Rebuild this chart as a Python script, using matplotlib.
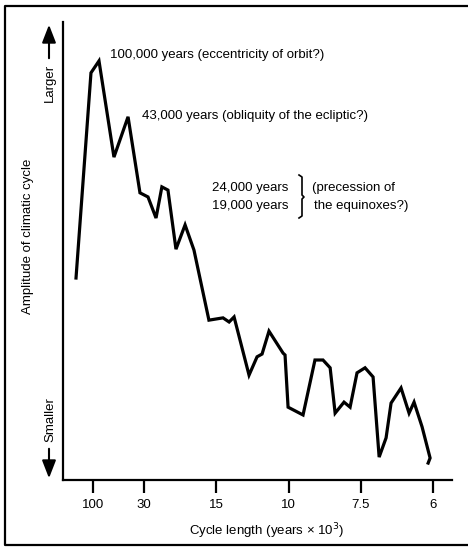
import matplotlib
matplotlib.use("Agg")
import matplotlib.pyplot as plt
from matplotlib.lines import Line2D
import numpy as np

plt.rcParams['font.family'] = ['Liberation Sans', 'DejaVu Sans']

# frequency in cycles per 1000 years (x axis is linear in 1/cycle length)
freq = [0.0020, 0.0089, 0.0126, 0.0195, 0.0260, 0.0315, 0.0352, 0.0389,
        0.0416, 0.0444, 0.0481, 0.0523, 0.0564, 0.0633, 0.0698, 0.0726,
        0.0749, 0.0818, 0.0855, 0.0878, 0.0910, 0.0975, 0.0984, 0.0998,
        0.1067, 0.1122, 0.1159, 0.1192, 0.1215, 0.1256, 0.1284, 0.1316,
        0.1353, 0.1390, 0.1418, 0.1450, 0.1473, 0.1519, 0.1556, 0.1579,
        0.1616, 0.1653, 0.1644]
# relative amplitude (arbitrary units, 0 = bottom, 100 = top)
amplitude = [44.1, 88.9, 91.5, 70.5, 79.3, 62.7, 61.8, 57.2,
             64.0, 63.3, 50.4, 55.7, 50.2, 34.9, 35.4, 34.5,
             35.6, 22.9, 26.9, 27.5, 32.5, 27.7, 27.3, 15.9,
             14.2, 26.2, 26.2, 24.5, 14.6, 17.0, 15.9, 23.4,
             24.5, 22.5, 5.0, 9.2, 16.8, 20.1, 14.6, 17.0,
             11.6, 4.8, 3.7]

tick_periods = [100, 30, 15, 10, 7.5, 6]
tick_labels = ['100', '30', '15', '10', '7.5', '6']

W, H = 468, 548
fig = plt.figure(figsize=(W / 100, H / 100), dpi=100)
ax = fig.add_axes([63 / W, 1 - 480 / H, (452 - 63) / W, (480 - 22) / H])

ax.plot(freq, amplitude, color='black', lw=2.3, solid_joinstyle='miter')

ax.set_xlim(-0.0040, 0.1754)
ax.set_ylim(0, 100)
ax.set_xticks([1 / p for p in tick_periods])
ax.set_xticklabels(tick_labels, fontsize=9.5)
ax.set_yticks([])
ax.tick_params(axis='x', direction='out', length=9, width=1.6, pad=5)
for s in ['top', 'right']:
    ax.spines[s].set_visible(False)
for s in ['left', 'bottom']:
    ax.spines[s].set_linewidth(1.6)

def fx(x):
    return x / W

def fy(y):
    return 1 - y / H

fs = 9.5
fig.text(fx(110), fy(55), '100,000 years (eccentricity of orbit?)', fontsize=fs, va='center')
fig.text(fx(142), fy(116), '43,000 years (obliquity of the ecliptic?)', fontsize=fs, va='center')
fig.text(fx(288), fy(188), '24,000 years', fontsize=fs, va='center', ha='right')
fig.text(fx(288), fy(206), '19,000 years', fontsize=fs, va='center', ha='right')
fig.text(fx(312), fy(188), '(precession of', fontsize=fs, va='center')
fig.text(fx(314), fy(206), 'the equinoxes?)', fontsize=fs, va='center')

# brace
bx = [299, 302, 302, 304, 302, 302, 299]
by = [175, 177, 195, 197, 199, 216, 218]
fig.add_artist(Line2D([fx(v) for v in bx], [fy(v) for v in by],
                      color='black', lw=1.2, transform=fig.transFigure))

fig.text(fx(28), fy(236), 'Amplitude of climatic cycle', fontsize=fs,
         rotation=90, ha='center', va='center')
fig.text(fx(50), fy(83), 'Larger', fontsize=fs, rotation=90, ha='center', va='center')
fig.text(fx(50), fy(420), 'Smaller', fontsize=fs, rotation=90, ha='center', va='center')
fig.text(fx(267), fy(531), 'Cycle length (years \u00d7 10$^3$)', fontsize=fs,
         ha='center', va='center')

arrow_kw = dict(arrowstyle='-|>,head_width=0.35,head_length=0.9', color='black',
                lw=1.5, mutation_scale=12)
ax.annotate('', xy=(fx(49), fy(22)), xytext=(fx(49), fy(61)),
            xycoords='figure fraction', textcoords='figure fraction',
            arrowprops=arrow_kw)
ax.annotate('', xy=(fx(49), fy(481)), xytext=(fx(49), fy(446)),
            xycoords='figure fraction', textcoords='figure fraction',
            arrowprops=arrow_kw)

# outer frame
fx_ = [fx(v) for v in [470, 5, 5, 470]]
fy_ = [fy(v) for v in [6, 6, 545, 545]]
fig.add_artist(Line2D(fx_, fy_, color='black', lw=1.6, transform=fig.transFigure))

fig.savefig('out.png', dpi=100)
